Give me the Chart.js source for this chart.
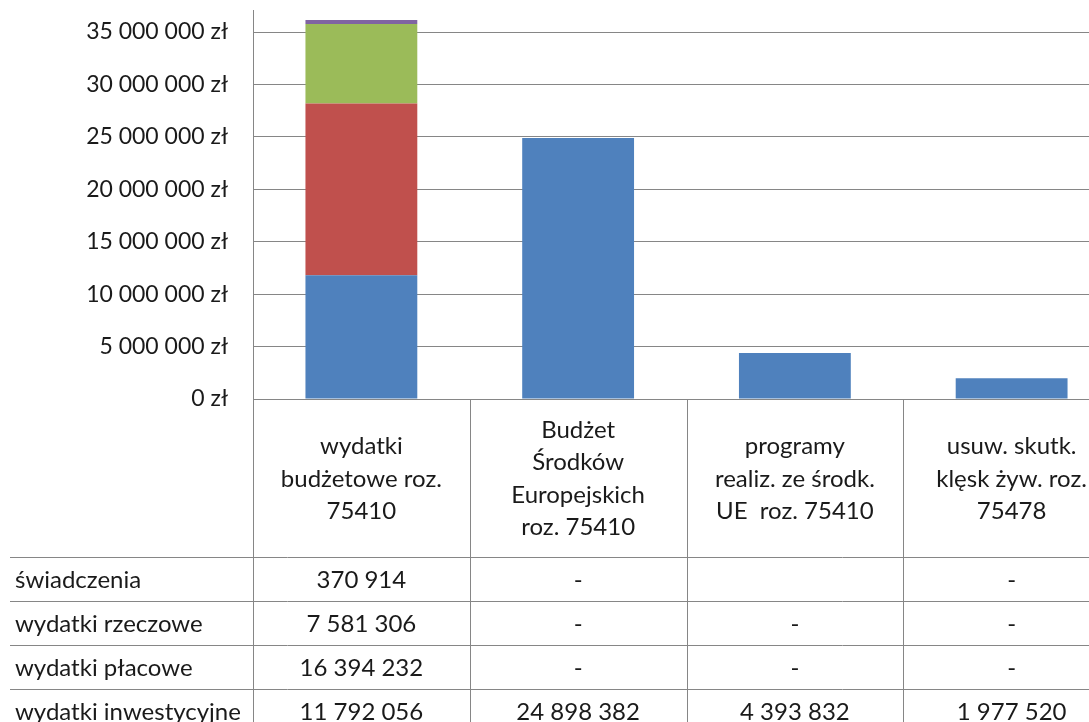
<!DOCTYPE html>
<html>
<head>
<meta charset="utf-8">
<script src="https://cdn.jsdelivr.net/npm/chart.js@4/dist/chart.umd.min.js"></script>
<style>
  html, body { margin: 0; padding: 0; background: #fff; overflow: hidden; }
  #wrap { width: 1120px; height: 722px; }
</style>
</head>
<body>
<div id="wrap"><canvas id="chart" width="1120" height="722"></canvas></div>
<script>
// kategorie (nagłówki kolumn tabeli danych)
const categories = [
  ['wydatki', 'budżetowe roz.', '75410'],
  ['Budżet', 'Środków', 'Europejskich', 'roz. 75410'],
  ['programy', 'realiz. ze środk.', 'UE  roz. 75410'],
  ['usuw. skutk.', 'klęsk żyw. roz.', '75478']
];

// serie (od dołu stosu)
const inwestycyjne = [11792056, 24898382, 4393832, 1977520];
const placowe = [16394232, 0, 0, 0];
const rzeczowe = [7581306, 0, 0, 0];
const swiadczenia = [370914, 0, null, 0];

const yTicks = [0, 5000000, 10000000, 15000000, 20000000, 25000000, 30000000, 35000000];

const FONT = 'Lato, "Open Sans", sans-serif';
const LINE = '#868686';

const fmt = v => String(v).replace(/\B(?=(\d{3})+(?!\d))/g, ' ');

const datasets = [
  { label: 'wydatki inwestycyjne', data: inwestycyjne, backgroundColor: '#4F81BD' },
  { label: 'wydatki płacowe', data: placowe, backgroundColor: '#C0504D' },
  { label: 'wydatki rzeczowe', data: rzeczowe, backgroundColor: '#9BBB59' },
  { label: 'świadczenia', data: swiadczenia, backgroundColor: '#8064A2' }
];

// tabela danych pod wykresem
const dataTable = {
  id: 'dataTable',
  afterDraw(chart) {
    const ctx = chart.ctx;
    const area = chart.chartArea;
    const x = chart.scales.x;
    const W = chart.width;
    const H = chart.height;
    const colW = (area.right - area.left) / categories.length;
    const headerH = 158;
    const rowH = 44;
    const rows = datasets.slice().reverse();

    ctx.save();
    ctx.strokeStyle = LINE;
    ctx.lineWidth = 1;
    ctx.beginPath();
    // pionowe linie
    for (let i = 0; i <= categories.length; i++) {
      const px = Math.round(area.left + i * colW) + 0.5;
      ctx.moveTo(px, area.bottom);
      ctx.lineTo(px, H);
    }
    // poziome linie
    for (let r = 0; r < rows.length; r++) {
      const py = Math.round(area.bottom + headerH + r * rowH) + 0.5;
      ctx.moveTo(10, py);
      ctx.lineTo(W, py);
    }
    ctx.stroke();

    ctx.fillStyle = '#1a1a1a';
    ctx.font = '24px ' + FONT;
    ctx.textBaseline = 'middle';
    ctx.textAlign = 'center';
    const lh = 32.5;
    categories.forEach((lines, i) => {
      const cx = x.getPixelForValue(i);
      const cy = area.bottom + headerH / 2 + 1;
      lines.forEach((t, j) => {
        ctx.fillText(t, cx, cy + (j - (lines.length - 1) / 2) * lh);
      });
    });

    rows.forEach((ds, r) => {
      const cy = area.bottom + headerH + r * rowH + rowH / 2 + 1;
      ctx.textAlign = 'left';
      ctx.fillText(ds.label, 15, cy);
      ctx.textAlign = 'center';
      ds.data.forEach((v, i) => {
        const t = v === null ? '' : (v === 0 ? '-' : fmt(v));
        ctx.fillText(t, x.getPixelForValue(i), cy);
      });
    });
    ctx.restore();
  }
};

new Chart(document.getElementById('chart'), {
  type: 'bar',
  data: { labels: categories.map(c => c.join(' ')), datasets },
  options: {
    responsive: false,
    animation: false,
    layout: { padding: { top: 10, bottom: 323, left: 0, right: 0 } },
    datasets: { bar: { barPercentage: 0.516, categoryPercentage: 1 } },
    plugins: { legend: { display: false }, tooltip: { enabled: false } },
    scales: {
      x: {
        stacked: true,
        ticks: { display: false },
        grid: { display: false, drawTicks: false },
        border: { color: LINE }
      },
      y: {
        stacked: true,
        min: 0,
        max: 37100000,
        afterBuildTicks(scale) { scale.ticks = yTicks.map(v => ({ value: v })); },
        afterFit(scale) { scale.width = 253; scale.paddingTop = 0; scale.paddingBottom = 0; },
        ticks: {
          padding: 25,
          color: '#1a1a1a',
          font: { family: FONT, size: 23 },
          callback: v => fmt(v) + ' zł'
        },
        grid: { color: LINE, drawTicks: false },
        border: { color: LINE }
      }
    }
  },
  plugins: [dataTable]
});
</script>
</body>
</html>
